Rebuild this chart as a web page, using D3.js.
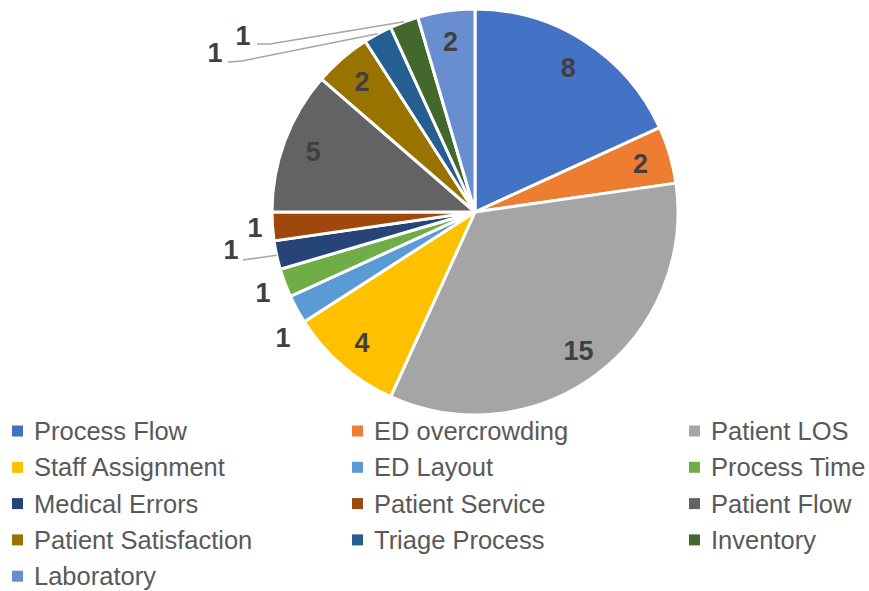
<!DOCTYPE html>
<html>
<head>
<meta charset="utf-8">
<script src="https://cdn.jsdelivr.net/npm/d3@7"></script>
<style>
  body { margin: 0; background: #fff; }
  svg { display: block; }
</style>
</head>
<body>
<svg width="869" height="591"></svg>
<script>
// categories and counts, clockwise from 12 o'clock
var categories = ["Process Flow", "ED overcrowding", "Patient LOS", "Staff Assignment",
  "ED Layout", "Process Time", "Medical Errors", "Patient Service", "Patient Flow",
  "Patient Satisfaction", "Triage Process", "Inventory", "Laboratory"];
var counts = [8, 2, 15, 4, 1, 1, 1, 1, 5, 2, 1, 1, 2];
var colors = ["#4472C4", "#ED7D31", "#A5A5A5", "#FFC000", "#5B9BD5", "#70AD47",
  "#264478", "#9E480E", "#636363", "#997300", "#255E91", "#43682B", "#698ED0"];

var data = categories.map(function(c, i) { return {name: c, value: counts[i], color: colors[i]}; });

var svg = d3.select("svg"),
    cx = 475, cy = 212, radius = 203;

var pie = d3.pie().sort(null).value(function(d) { return d.value; });
var arc = d3.arc().innerRadius(0).outerRadius(radius);
var arcs = pie(data);

var g = svg.append("g").attr("transform", "translate(" + cx + "," + cy + ")");

g.selectAll("path.slice")
    .data(arcs)
  .enter().append("path")
    .attr("class", "slice")
    .attr("d", arc)
    .attr("fill", function(d) { return d.data.color; })
    .attr("stroke", "#fff")
    .attr("stroke-width", 3)
    .attr("stroke-linejoin", "round");

// label placement: big slices inside, the thin ones outside (some with leader lines)
var inner = d3.arc().innerRadius(radius * 0.85).outerRadius(radius * 0.85);
var edgeArc = d3.arc().innerRadius(radius).outerRadius(radius);
var outside = {
  "ED Layout":      {pos: [-192, 125]},
  "Process Time":   {pos: [-212, 80]},
  "Medical Errors": {pos: [-244, 37], line: [[-232, 48]]},
  "Patient Service":{pos: [-220, 15]},
  "Triage Process": {pos: [-260, -160], line: [[-247, -150], [-233, -151]]},
  "Inventory":      {pos: [-232, -177], line: [[-218, -168], [-205, -168]]}
};

function labelPos(d) {
  var o = outside[d.data.name];
  return o ? o.pos : inner.centroid(d);
}

arcs.forEach(function(d) {
  var o = outside[d.data.name];
  if (!o || !o.line) return;
  var pts = o.line.concat([edgeArc.centroid(d)]);
  g.append("path")
      .attr("d", d3.line()(pts))
      .attr("fill", "none")
      .attr("stroke", "#A6A6A6")
      .attr("stroke-width", 1.5);
});

g.selectAll("text.lbl")
    .data(arcs)
  .enter().append("text")
    .attr("class", "lbl")
    .attr("transform", function(d) { return "translate(" + labelPos(d) + ")"; })
    .attr("text-anchor", "middle")
    .attr("dy", "0.36em")
    .style("font-family", "'Liberation Sans', Arial, sans-serif")
    .style("font-weight", "bold")
    .style("font-size", "27px")
    .style("fill", "#404040")
    .text(function(d) { return d.data.value; });

// legend: 3 columns
var colX = [12, 352, 689], rowY0 = 431, rowH = 36.3;
var leg = svg.selectAll("g.leg")
    .data(data)
  .enter().append("g")
    .attr("class", "leg")
    .attr("transform", function(d, i) {
      return "translate(" + colX[i % 3] + "," + (rowY0 + Math.floor(i / 3) * rowH) + ")";
    });

leg.append("rect")
    .attr("x", 0).attr("y", -5.5)
    .attr("width", 11).attr("height", 11)
    .attr("fill", function(d) { return d.color; });

leg.append("text")
    .attr("x", 22)
    .attr("dy", "0.36em")
    .style("font-family", "'Liberation Sans Narrow', 'Liberation Sans', sans-serif")
    .style("font-size", "25.5px")
    .style("fill", "#595959")
    .text(function(d) { return d.name; });
</script>
</body>
</html>
